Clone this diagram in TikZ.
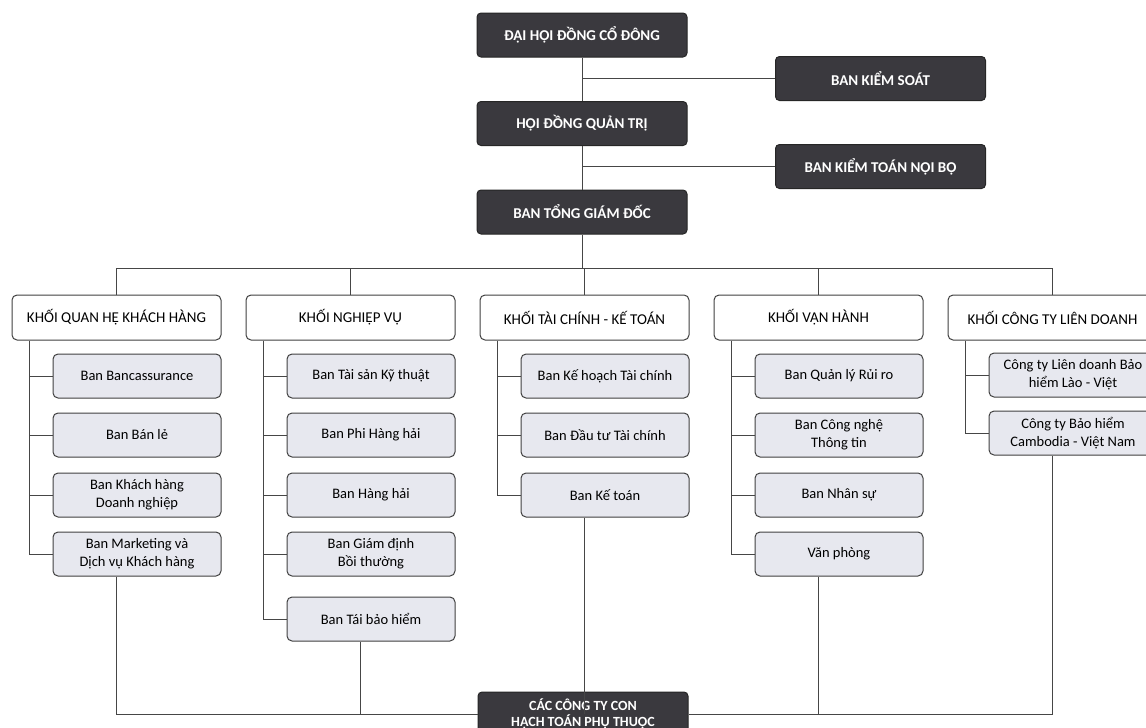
\documentclass[tikz,border=0pt]{standalone}
\usepackage{fontspec}
\setmainfont{Carlito}
\usepackage{xcolor}
\usetikzlibrary{positioning}
\definecolor{boxdark}{RGB}{58,57,62}
\definecolor{subfill}{RGB}{231,232,239}
\definecolor{lnc}{RGB}{70,70,70}
\tikzset{
  darkbox/.style={draw=black!85, fill=boxdark, rounded corners=4pt, text=white, line width=1pt,
    font=\bfseries\fontsize{15}{16}\selectfont, align=center, minimum width=210pt, minimum height=44pt},
  headbox/.style={draw=black!75, fill=white, rounded corners=5pt, line width=1pt,
    font=\fontsize{15}{16}\selectfont, minimum width=209pt, minimum height=45pt},
  subbox/.style={draw=black!75, fill=subfill, rounded corners=5pt, line width=1pt, align=center,
    font=\fontsize{14.5}{18}\selectfont, minimum width=168pt, minimum height=44pt, inner sep=2pt},
  ln/.style={draw=lnc, line width=0.9pt},
}

\begin{document}
\begin{tikzpicture}[x=1pt,y=-1pt]
  \useasboundingbox (0,0) rectangle (1146,728);
  \clip (0,0) rectangle (1146,728);
  % top of the chart
  \node[darkbox] (dhcd) at (582,35) {ĐẠI HỘI ĐỒNG CỔ ĐÔNG};
  \node[darkbox] (hdqt) at (582,123.5) {HỘI ĐỒNG QUẢN TRỊ};
  \node[darkbox] (btgd) at (582,212) {BAN TỔNG GIÁM ĐỐC};
  \node[darkbox] (bks) at (880.5,78.5) {BAN KIỂM SOÁT};
  \node[darkbox] (bktnb) at (880.5,166.5) {BAN KIỂM TOÁN NỘI BỘ};
  \draw[ln] (dhcd) -- (hdqt);
  \draw[ln] (hdqt) -- (btgd);
  \draw[ln] (dhcd.south |- bks.west) -- (bks.west);
  \draw[ln] (hdqt.south |- bktnb.west) -- (bktnb.west);
  % khoi
  \foreach \name/\txt [count=\i from 0] in {k1/KHỐI QUAN HỆ KHÁCH HÀNG, k2/KHỐI NGHIỆP VỤ,
      k3/KHỐI TÀI CHÍNH - KẾ TOÁN, k4/KHỐI VẬN HÀNH, k5/KHỐI CÔNG TY LIÊN DOANH}
    \node[headbox] (\name) at (116.5+234*\i,317.5) {\txt};
  \coordinate (bus) at (582,268);
  \draw[ln] (btgd) -- (bus);
  \draw[ln] (bus -| k1) -- (bus -| k5);
  \foreach \k in {k1,k2,k3,k4,k5} \draw[ln] (bus -| \k) -- (\k);
  % ban
  \node[subbox] (k1a) at (137,376) {Ban Bancassurance};
  \node[subbox] (k1b) at (137,435) {Ban Bán lẻ};
  \node[subbox] (k1c) at (137,495) {Ban Khách hàng\\Doanh nghiệp};
  \node[subbox] (k1d) at (137,554) {Ban Marketing và\\Dịch vụ Khách hàng};
  \node[subbox] (k2a) at (371,376) {Ban Tài sản Kỹ thuật};
  \node[subbox] (k2b) at (371,435) {Ban Phi Hàng hải};
  \node[subbox] (k2c) at (371,495) {Ban Hàng hải};
  \node[subbox] (k2d) at (371,554) {Ban Giám định\\Bồi thường};
  \node[subbox] (k2e) at (371,619) {Ban Tái bảo hiểm};
  \node[subbox] (k3a) at (605,376) {Ban Kế hoạch Tài chính};
  \node[subbox] (k3b) at (605,435) {Ban Đầu tư Tài chính};
  \node[subbox] (k3c) at (605,495) {Ban Kế toán};
  \node[subbox] (k4a) at (839,376) {Ban Quản lý Rủi ro};
  \node[subbox] (k4b) at (839,435) {Ban Công nghệ\\Thông tin};
  \node[subbox] (k4c) at (839,495) {Ban Nhân sự};
  \node[subbox] (k4d) at (839,554) {Văn phòng};
  \node[subbox] (k5a) at (1073,375) {Công ty Liên doanh Bảo\\hiểm Lào - Việt};
  \node[subbox] (k5b) at (1073,433) {Công ty Bảo hiểm\\Cambodia - Việt Nam};
  \foreach \k/\last in {k1/k1d,k2/k2e,k3/k3c,k4/k4d,k5/k5b}
    \draw[ln] ([xshift=18pt]\k.south west) |- (\last.west);
  \foreach \s/\k in {k1a/k1,k1b/k1,k1c/k1,k2a/k2,k2b/k2,k2c/k2,k2d/k2,
      k3a/k3,k3b/k3,k4a/k4,k4b/k4,k4c/k4,k5a/k5}
    \draw[ln] (\s.west) -- ([xshift=18pt]\k.south west |- \s.west);
  % bottom
  \node[darkbox, font=\bfseries\fontsize{14}{16}\selectfont] (ctcon) at (583,714) {CÁC CÔNG TY CON\\HẠCH TOÁN PHỤ THUỘC};
  \draw[ln] (k1d.south -| k1) |- (ctcon.west);
  \draw[ln] (k5b.south -| k5) |- (ctcon.east);
  \draw[ln] ([xshift=-11pt]k2e.south) -- ([xshift=-11pt]k2e.south |- ctcon.west);
  \foreach \k/\last in {k3/k3c,k4/k4d}
    \draw[ln] (\last.south -| \k) -- (\k |- ctcon.west);
\end{tikzpicture}
\end{document}
